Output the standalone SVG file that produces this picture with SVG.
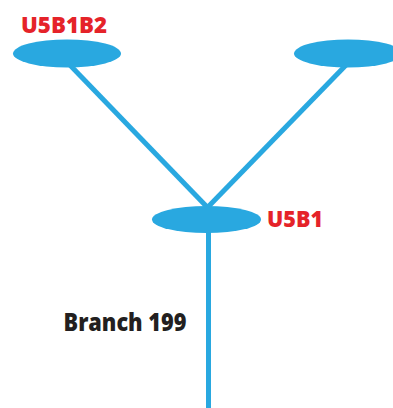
<svg xmlns="http://www.w3.org/2000/svg" width="393" height="408" viewBox="0 0 393 408">
  <style>
    .node { fill: #29a8e0; }
    .edge { stroke: #29a8e0; stroke-width: 5; fill: none; }
    .lbl { font-family: "Open Sans", "Liberation Sans", sans-serif; font-weight: 800; }
    .red { fill: #e52329; font-size: 22.5px; }
    .dark { fill: #231f20; font-size: 24px; }
  </style>
  <rect width="393" height="408" fill="#ffffff"/>
  <g id="connectors">
    <line class="edge" x1="67" y1="62" x2="208" y2="208"/>
    <line class="edge" x1="349" y1="62" x2="207" y2="208"/>
    <line class="edge" x1="208.5" y1="220" x2="208.5" y2="408"/>
  </g>
  <g id="U5B1B2">
    <ellipse class="node" cx="67" cy="53.5" rx="54" ry="14"/>
    <text class="lbl red" x="21" y="32.7" textLength="86" lengthAdjust="spacingAndGlyphs">U5B1B2</text>
  </g>
  <g id="right-node">
    <ellipse class="node" cx="348" cy="53.5" rx="54" ry="14"/>
  </g>
  <g id="U5B1">
    <ellipse class="node" cx="206.5" cy="219.5" rx="54.5" ry="13.5"/>
    <text class="lbl red" x="267" y="227.3" textLength="56" lengthAdjust="spacingAndGlyphs">U5B1</text>
  </g>
  <text class="lbl dark" x="63.5" y="330.7" textLength="123" lengthAdjust="spacingAndGlyphs">Branch 199</text>
</svg>
